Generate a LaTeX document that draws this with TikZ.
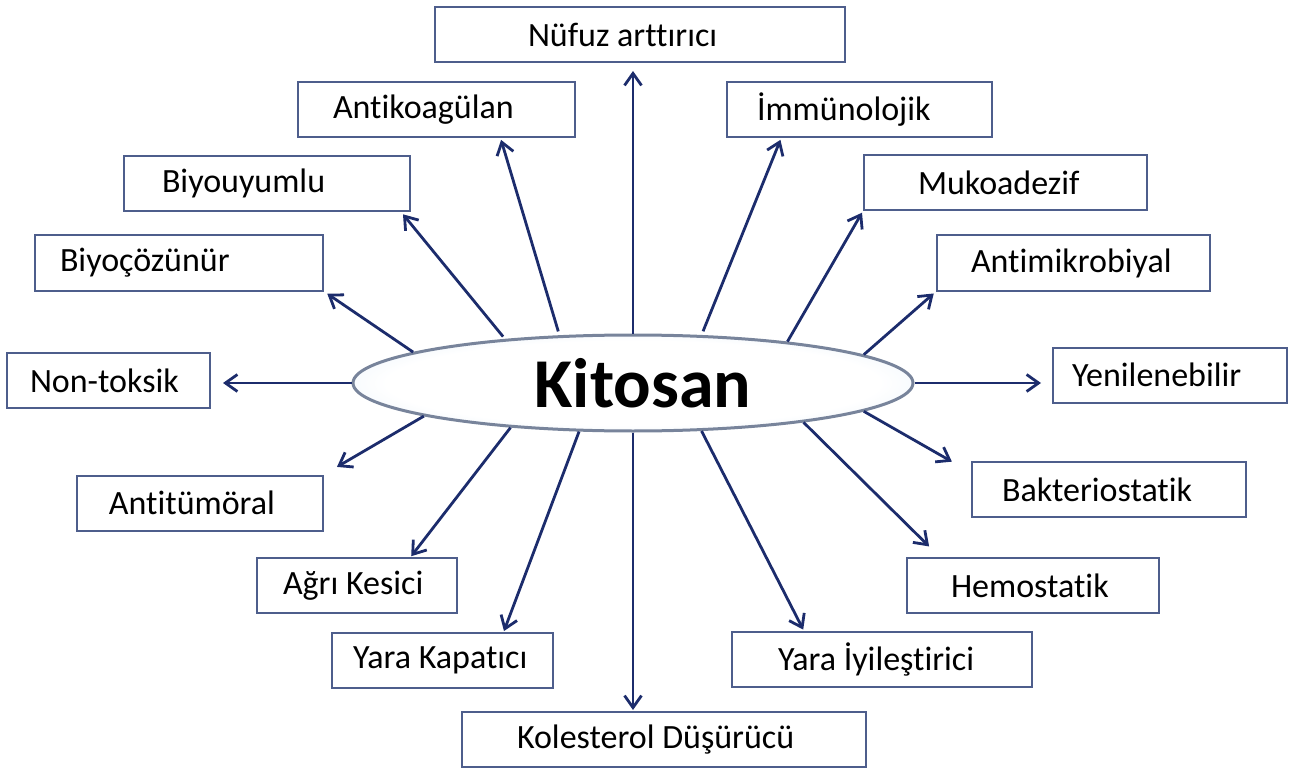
\documentclass[tikz,border=0pt]{standalone}
\usepackage{fontspec}
\setmainfont{Carlito}[Ligatures=NoCommon]
\usetikzlibrary{shapes.geometric, arrows.meta}
\definecolor{boxline}{RGB}{78,94,140}
\definecolor{linkc}{RGB}{28,44,108}
\definecolor{coreline}{RGB}{120,132,155}
\definecolor{corefill}{RGB}{190,216,240}
\pgfdeclareradialshading{coreshade}{\pgfpoint{0bp}{0bp}}{color(0bp)=(white); color(22bp)=(white); color(50bp)=(corefill); color(70bp)=(corefill)}
\tikzset{
>={Straight Barb[length=12pt, width=17pt]}, % open arrow heads
prop/.style={draw=boxline, line width=2pt, minimum height=55pt, inner sep=0pt, font=\fontsize{34}{40}\selectfont}, % the property boxes
core/.style={ellipse, draw=coreline, line width=3pt, shading=coreshade, minimum width=560pt, minimum height=96pt, inner sep=0pt, font=\fontsize{70}{80}\selectfont\bfseries}, % the central ellipse
link/.style={->, draw=linkc, line width=2.8pt}, % connectors
}
\begin{document}
\begin{tikzpicture}[x=1pt, y=-1pt]
    \useasboundingbox (0,0) rectangle (1299,770);

    \node[core] (kit) at (633,383) {\hspace*{20pt}Kitosan};

    \node[prop] (nuf) at (640,34.5) {\makebox[410pt][l]{\hspace*{93pt}Nüfuz arttırıcı}};
    \node[prop] (antk) at (436.5,109.5) {\makebox[277pt][l]{\hspace*{35pt}Antikoagülan}};
    \node[prop] (imm) at (859.5,109.5) {\makebox[265pt][l]{\hspace*{30pt}İmmünolojik}};
    \node[prop] (biyu) at (267,183.5) {\makebox[286pt][l]{\hspace*{38pt}Biyouyumlu}};
    \node[prop] (muko) at (1005.5,182.5) {\makebox[283pt][l]{\hspace*{54pt}Mukoadezif}};
    \node[prop] (biyc) at (179,263) {\makebox[288pt][l]{\hspace*{25pt}Biyoçözünür}};
    \node[prop] (antm) at (1073.5,263) {\makebox[273pt][l]{\hspace*{34pt}Antimikrobiyal}};
    \node[prop] (non) at (108.5,380.5) {\makebox[203pt][l]{\hspace*{23pt}Non-toksik}};
    \node[prop] (yen) at (1170,375) {\makebox[234pt][l]{\hspace*{19pt}Yenilenebilir}};
    \node[prop] (antt) at (200,503) {\makebox[246pt][l]{\hspace*{32pt}Antitümöral}};
    \node[prop] (bak) at (1109,489.5) {\makebox[274pt][l]{\hspace*{30pt}Bakteriostatik}};
    \node[prop] (agr) at (357,585.5) {\makebox[200pt][l]{\hspace*{26pt}Ağrı Kesici}};
    \node[prop] (hem) at (1033,585.5) {\makebox[252pt][l]{\hspace*{44pt}Hemostatik}};
    \node[prop] (yk) at (442.5,660.5) {\makebox[221pt][l]{\hspace*{21pt}Yara Kapatıcı}};
    \node[prop] (yi) at (882,659) {\makebox[300pt][l]{\hspace*{46pt}Yara İyileştirici}};
    \node[prop] (kol) at (664,739.5) {\makebox[404pt][l]{\hspace*{55pt}Kolesterol Düşürücü}};

    % upper half
    \draw[link, shorten >=8pt] (kit.north) -- (kit.north |- nuf.south);
    \draw[link, shorten <=4pt, shorten >=2pt] (kit.147.6) -- (antk.-24.7);
    \draw[link, shorten <=4pt, shorten >=2pt] (kit.35.1) -- (imm.200.8);
    \draw[link, shorten <=3pt, shorten >=3pt] (kit.161.5) -- (biyu.-12);
    \draw[link, shorten >=2pt] (kit.15) -- (muko.south west);
    \draw[link, shorten >=4pt] (kit.172.1) -- (biyc.south east);
    \draw[link, shorten >=3pt] (kit.7.4) -- (antm.south west);
    \draw[link, shorten >=12pt] (kit.west) -- (kit.west -| non.east);
    \draw[link, shorten >=11pt] (kit.east) -- (kit.east -| yen.west);
    % lower half
    \draw[link, shorten >=15pt] (kit.189.4) -- (antt.north east);
    \draw[link, shorten >=22pt] (kit.-7.8) -- (bak.173.3);
    \draw[link, shorten >=15pt] (kit.-13.9) -- (hem.163.9);
    \draw[link, shorten >=1pt] (kit.200.3) -- (agr.28.3);
    \draw[link, shorten >=1pt] (kit.222) -- (yk.25.6);
    \draw[link, shorten >=1pt] (kit.-35.6) -- (yi.160);
    \draw[link, shorten >=1pt] (kit.south) -- (kit.south |- kol.north);
\end{tikzpicture}
\end{document}
